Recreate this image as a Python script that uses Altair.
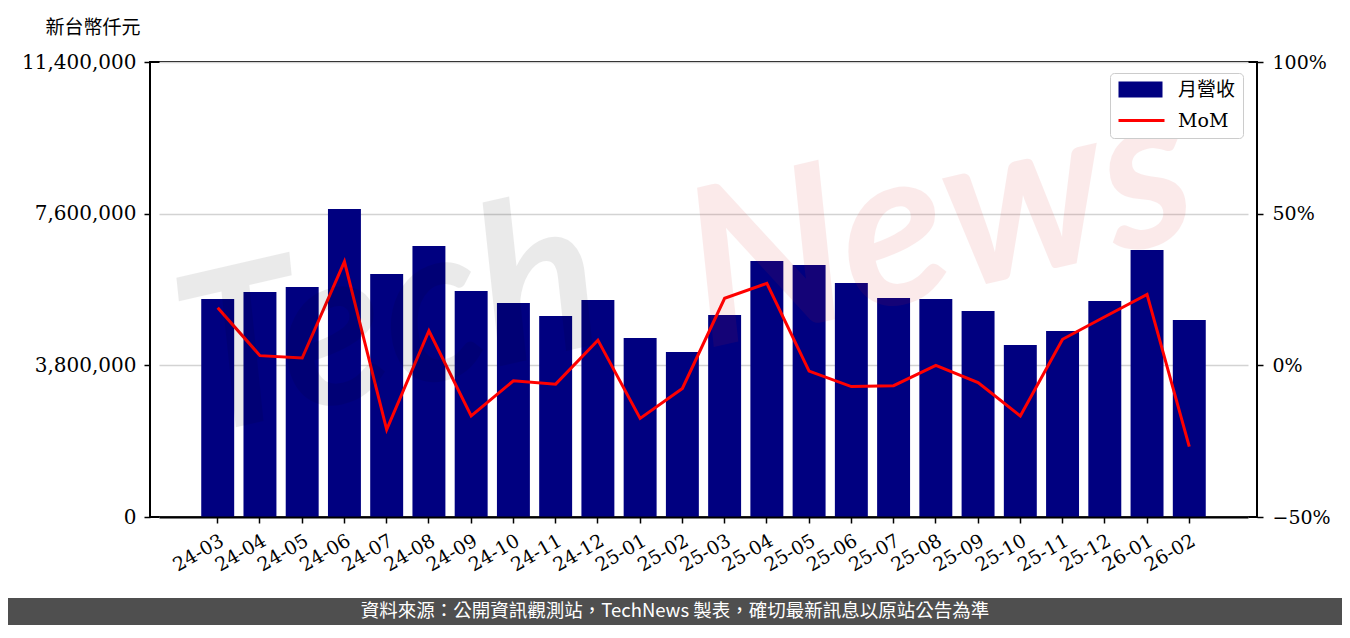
import altair as alt
import pandas as pd

months = ["24-03", "24-04", "24-05", "24-06", "24-07", "24-08", "24-09", "24-10",
          "24-11", "24-12", "25-01", "25-02", "25-03", "25-04", "25-05", "25-06",
          "25-07", "25-08", "25-09", "25-10", "25-11", "25-12", "26-01", "26-02"]
revenue = [5462000, 5637000, 5762000, 7717000, 6088000, 6790000, 5662000, 5362000,
           5036000, 5437000, 4485000, 4134000, 5061000, 6414000, 6314000, 5863000,
           5487000, 5462000, 5161000, 4309000, 4660000, 5412000, 6689000, 4936000]
mom = [0.190, 0.032, 0.024, 0.342, -0.212, 0.114, -0.167, -0.051,
       -0.062, 0.083, -0.175, -0.076, 0.221, 0.270, -0.019, -0.070,
       -0.067, 0.000, -0.057, -0.167, 0.086, 0.160, 0.234, -0.268]
left_ticks = [0, 3800000, 7600000, 11400000]
right_ticks = [-0.5, 0.0, 0.5, 1.0]
legend_names = ["月營收", "MoM"]
y_title = "新台幣仟元"
footer_text = "資料來源：公開資訊觀測站，TechNews 製表，確切最新訊息以原站公告為準"

df = pd.DataFrame({"month": months, "revenue": revenue, "mom": mom})

SERIF = "DejaVu Serif"
CJK = "Noto Sans CJK TC"

x_enc = alt.X(
    "month:N", sort=months,
    scale=alt.Scale(paddingInner=0.22, paddingOuter=1, range=[9, 1098]),
    axis=alt.Axis(title=None, labelAngle=330, labelAlign="right", labelBaseline="top",
                  labelFont=SERIF, labelFontSize=19, labelColor="black",
                  tickColor="black", tickSize=6, tickWidth=1.5, labelPadding=8,
                  domainColor="black", domainWidth=2, zindex=1),
)

bars = alt.Chart(df).mark_bar(color="#000080").encode(
    x=x_enc,
    y=alt.Y("revenue:Q",
            scale=alt.Scale(domain=[0, 11400000], nice=False, zero=True),
            axis=alt.Axis(values=left_ticks, format=",d", title=y_title,
                          titleAngle=0, titleAlign="left", titleBaseline="middle",
                          titleX=-105, titleY=-35, titleFont=CJK, titleFontSize=19,
                          titleFontWeight="normal", titleColor="black",
                          labelFont=SERIF, labelFontSize=20, labelColor="black",
                          labelPadding=8, tickColor="black", tickSize=6, tickWidth=1.5,
                          domain=False, grid=True, gridColor="#d3d3d3", gridWidth=1.5)),
)

line = alt.Chart(df).mark_line(color="#ff0000", strokeWidth=3).encode(
    x=x_enc,
    y=alt.Y("mom:Q",
            scale=alt.Scale(domain=[-0.5, 1.0], nice=False, zero=False),
            axis=alt.Axis(orient="right", values=right_ticks, format=".0%", title=None,
                          labelFont=SERIF, labelFontSize=19, labelColor="black",
                          labelPadding=9, tickColor="black", tickSize=6, tickWidth=1.5,
                          domain=False, grid=False)),
)

one = alt.Data(values=[{"k": 1}])

wm_tech = alt.Chart(one).mark_text(
    text="Tech", font="Lato", fontSize=220, fontWeight="bold", fontStyle="italic",
    angle=347, color="#000000", opacity=0.08, align="center", baseline="middle"
).encode(x=alt.value(240), y=alt.value(262))

wm_news = alt.Chart(one).mark_text(
    text="News", font="Lato", fontSize=220, fontWeight="bold", fontStyle="italic",
    angle=347, color="#d62728", opacity=0.09, align="center", baseline="middle"
).encode(x=alt.value(790), y=alt.value(165))

footer_band = alt.Chart(one).mark_rect(color="#4f4f4f").encode(
    x=alt.value(-142), x2=alt.value(1192), y=alt.value(536), y2=alt.value(563))

footer = alt.Chart(one).mark_text(
    text=footer_text, font=CJK, fontSize=18.5, color="white",
    align="center", baseline="middle"
).encode(x=alt.value(525), y=alt.value(549))

rect_path = "M-1,-1H4.5V1H-1Z"
line_path = "M-1,-0.19H4.75V0.19H-1Z"

leg_kw = dict(title=None, orient="none", legendX=960, legendY=11,
              labelFont=SERIF + ", " + CJK, labelFontSize=19,
              labelColor="black", symbolSize=256,
              symbolStrokeWidth=0, labelOffset=42, padding=7,
              rowPadding=11, fillColor="white",
              strokeColor="#cccccc", cornerRadius=4)

legend_layer = alt.Chart(df).transform_calculate(series="'x'").transform_filter(
    "false").mark_point(filled=True, opacity=1, size=256).encode(
    color=alt.Color("series:N",
                    scale=alt.Scale(domain=legend_names, range=["#000080", "#ff0000"]),
                    legend=alt.Legend(**leg_kw)),
    shape=alt.Shape("series:N",
                    scale=alt.Scale(domain=legend_names, range=[rect_path, line_path]),
                    legend=alt.Legend(**leg_kw)),
)

chart = alt.layer(bars, line, wm_tech, wm_news, footer_band, footer, legend_layer).resolve_scale(
    y="independent"
).properties(
    width=1107, height=455,
    autosize=alt.AutoSizeParams(type="none"),
    padding={"left": 142, "top": 54, "right": 85, "bottom": 109},
    background="white",
).configure_view(stroke="black", strokeWidth=2)

chart.save("out.html", embed_options={"renderer": "svg", "actions": False})
